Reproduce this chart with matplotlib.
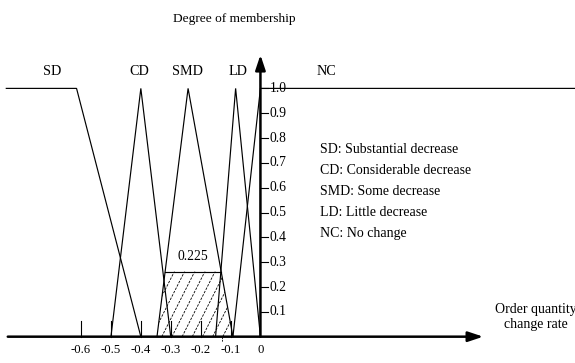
import numpy as np
import matplotlib
matplotlib.use("Agg")
import matplotlib.pyplot as plt
from matplotlib.patches import Polygon

plt.rcParams["font.family"] = ["Liberation Serif", "DejaVu Serif"]

# membership functions (x = order quantity change rate, y = degree)
sd_x = [-0.85, -0.615, -0.40]
sd_y = [1.0, 1.0, 0.0]
cd_x = [-0.50, -0.40, -0.30]
cd_y = [0.0, 1.0, 0.0]
smd_x = [-0.346, -0.242, -0.092]
smd_y = [0.0, 1.0, 0.0]
ld_x = [-0.150, -0.083, 0.0]
ld_y = [0.0, 1.0, 0.0]
nc_x = [-0.092, 0.0, 1.06]
nc_y = [0.0, 1.0, 1.0]

mf_names = ["SD", "CD", "SMD", "LD", "NC"]
mf_label_x = [-0.695, -0.405, -0.243, -0.075, 0.222]
legend_lines = ["SD: Substantial decrease", "CD: Considerable decrease",
                "SMD: Some decrease", "LD: Little decrease", "NC: No change"]

x_ticks = [-0.6, -0.5, -0.4, -0.3, -0.2, -0.1, 0.0]
x_tick_labels = ["-0.6", "-0.5", "-0.4", "-0.3", "-0.2", "-0.1", "0"]
y_ticks = [0.1, 0.2, 0.3, 0.4, 0.5, 0.6, 0.7, 0.8, 0.9, 1.0]

cut_level = 0.262
cut_label = "0.225"
centroid_x = -0.13

fig = plt.figure(figsize=(5.75, 3.63), dpi=100)
ax = fig.add_axes([0, 0, 1, 1])
ax.set_xlim(-0.871, 1.052)
ax.set_ylim(-0.106, 1.356)
ax.set_axis_off()

lw = 0.85
for xs, ys in [(sd_x, sd_y), (cd_x, cd_y), (smd_x, smd_y), (ld_x, ld_y), (nc_x, nc_y)]:
    ax.plot(xs, ys, color="black", lw=lw, solid_joinstyle="miter")

# clipped SMD area (hatched)
left_top = np.interp(cut_level, smd_y[:2], smd_x[:2])
right_top = np.interp(cut_level, smd_y[:0:-1], smd_x[:0:-1])
poly_pts = [(smd_x[0], 0), (left_top, cut_level), (right_top, cut_level), (smd_x[2], 0)]
clip = Polygon(poly_pts, closed=True, facecolor="none", edgecolor="none")
ax.add_patch(clip)
ax.plot([left_top, right_top], [cut_level, cut_level], color="black", lw=lw)
# dashed hatch lines
dx_per_dy = 0.42
for x0 in np.arange(-0.50, -0.05, 0.034):
    ln, = ax.plot([x0, x0 + dx_per_dy * 0.3], [0, 0.3], color="black", lw=0.6,
                  linestyle=(0, (3, 1.5)))
    ln.set_clip_path(clip)
ax.text((left_top + right_top) / 2, cut_level + 0.035, cut_label, ha="center",
        va="bottom", fontsize=9.8)
ax.plot([centroid_x, centroid_x], [0, -0.02], color="black", lw=0.6, linestyle=(0, (2, 1)))

# x axis
ax.annotate("", xy=(0.745, 0), xytext=(-0.845, 0),
            arrowprops=dict(arrowstyle="-|>,head_length=0.9,head_width=0.3",
                            color="black", lw=1.8, shrinkA=0, shrinkB=0))
for t in x_ticks[:-1]:
    ax.plot([t, t], [0, 0.065], color="black", lw=0.8)
for t, lab in zip(x_ticks, x_tick_labels):
    ax.text(t, -0.03, lab, ha="center", va="top", fontsize=9.2)

# y axis
ax.annotate("", xy=(0.0, 1.135), xytext=(0.0, 0.0),
            arrowprops=dict(arrowstyle="-|>,head_length=0.9,head_width=0.3",
                            color="black", lw=1.8, shrinkA=0, shrinkB=0))
for t in y_ticks:
    ax.plot([0, 0.026], [t, t], color="black", lw=0.8)
    ax.text(0.03, t, f"{t:.1f}", ha="left", va="center", fontsize=9.8)

ax.text(-0.088, 1.28, "Degree of membership", ha="center", va="center", fontsize=9.6)
ax.text(0.92, 0.08, "Order quantity\nchange rate", ha="center", va="center",
        fontsize=10, linespacing=1.25)

for name, lx in zip(mf_names, mf_label_x):
    ax.text(lx, 1.07, name, ha="center", va="center", fontsize=10.2)

for i, line in enumerate(legend_lines):
    ax.text(0.2, 0.752 - i * 0.0838, line, ha="left", va="center", fontsize=10)

fig.savefig("out.png", dpi=100)
